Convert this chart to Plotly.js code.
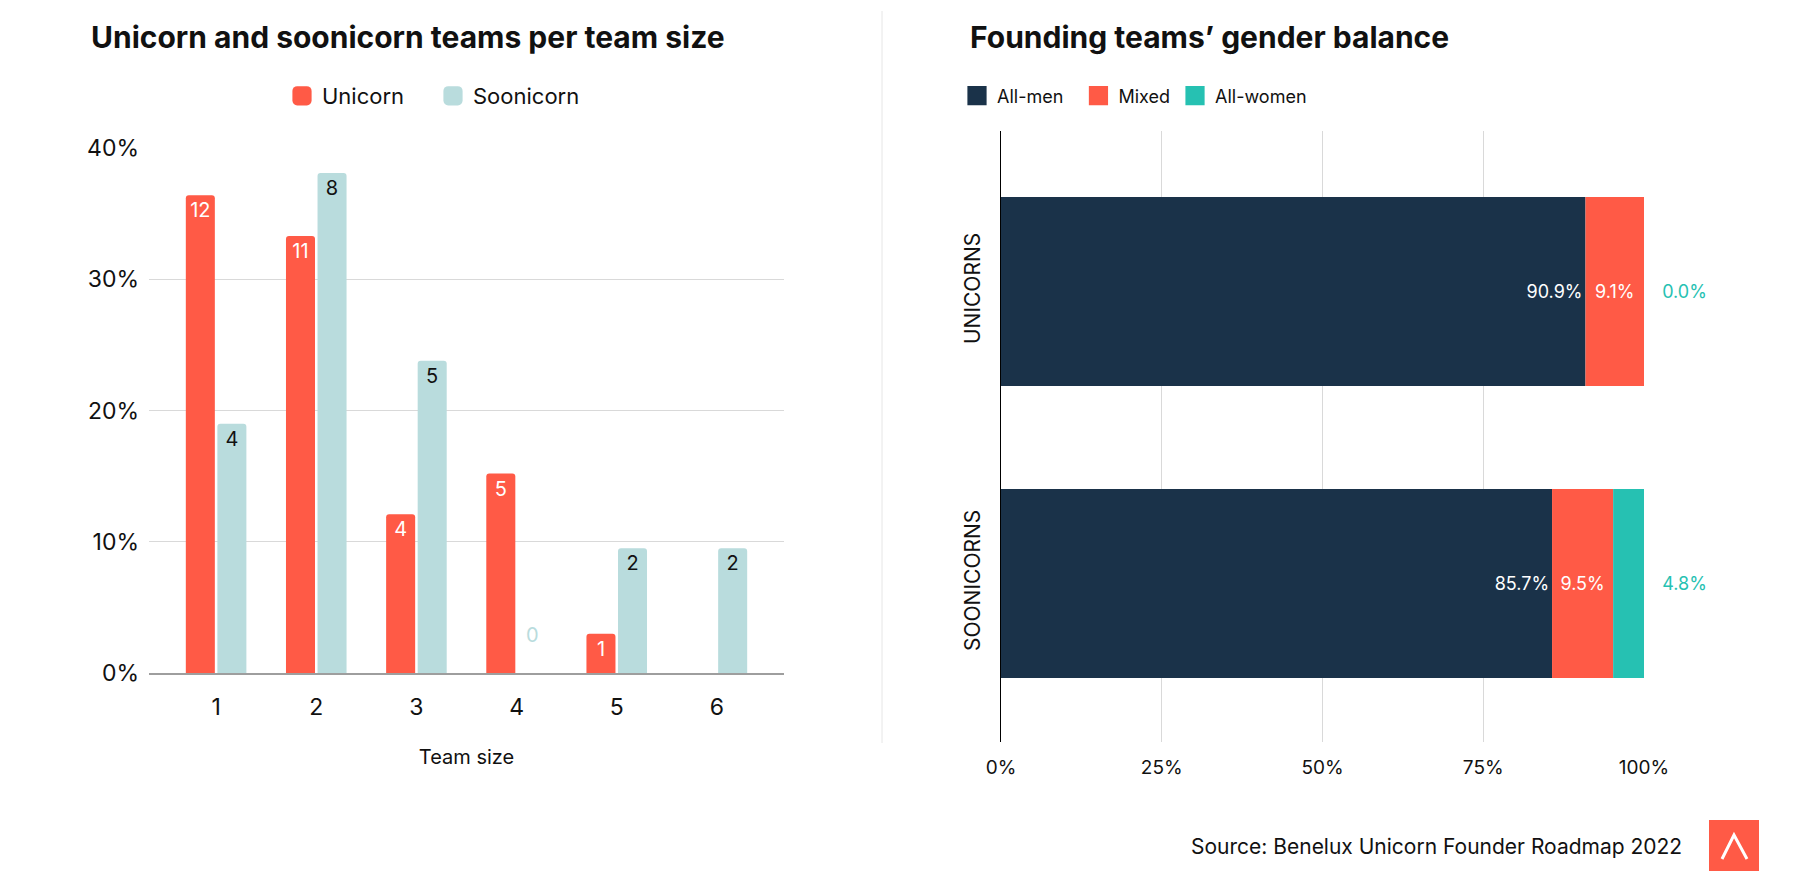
<!DOCTYPE html>
<html>
<head>
<meta charset="utf-8">
<script src="https://cdn.plot.ly/plotly-3.0.1.min.js"></script>
<style>html,body{margin:0;padding:0;background:#fff;}#chart{width:1800px;height:882px;}</style>
</head>
<body>
<div id="chart"></div>
<script>
// ---- Data: left chart (team size) ----
var teamSizes = ['1', '2', '3', '4', '5', '6'];
var unicornShare = [36.4, 33.3, 12.1, 15.2, 3.0, 0];
var soonicornShare = [19.0, 38.1, 23.8, 0, 9.5, 9.5];
var unicornLabels = ['12', '11', '4', '5', '1', ''];
var soonicornLabels = ['4', '8', '5', '0<br><span style="font-size:8px">\u00a0</span>', '2', '2'];
var soonicornLabelPos = ['inside', 'inside', 'inside', 'outside', 'inside', 'inside'];
var yTickVals = [0, 10, 20, 30, 40];
var yTickText = ['0%', '10%', '20%', '30%', '40%'];

// ---- Data: right chart (gender balance) ----
var groups = ['SOONICORNS', 'UNICORNS'];
var allMen = [85.7, 90.9];
var mixed = [9.5, 9.1];
var allWomen = [4.8, 0.0];
var xTickVals = [0, 25, 50, 75, 100];
var xTickText = ['0%', '25%', '50%', '75%', '100%'];

var W = 1800, H = 882;
function px(x) { return x / W; }
function py(y) { return 1 - y / H; }
function pct(v) { return v.toFixed(1) + '%'; }

var mixedBase = allMen.slice();
var womenBase = allMen.map(function (v, i) { return v + mixed[i]; });

var CORAL = '#FF5A46', LIGHT = '#B9DCDD', NAVY = '#1A3249', TEAL = '#26C1B2';
var FONT = 'Inter, Roboto, sans-serif';

var traces = [
  {
    type: 'bar', name: 'Unicorn', x: teamSizes, y: unicornShare,
    xaxis: 'x', yaxis: 'y', legend: 'legend',
    marker: { color: CORAL, cornerradius: 3 },
    text: unicornLabels, textposition: 'inside', insidetextanchor: 'end',
    textfont: { color: '#ffffff', size: 20, family: FONT },
    constraintext: 'none', cliponaxis: false, hoverinfo: 'x+y'
  },
  {
    type: 'bar', name: 'Soonicorn', x: teamSizes, y: soonicornShare,
    xaxis: 'x', yaxis: 'y', legend: 'legend',
    marker: { color: LIGHT, cornerradius: 3 },
    text: soonicornLabels, textposition: soonicornLabelPos, insidetextanchor: 'end',
    insidetextfont: { color: '#111111', size: 20, family: FONT },
    outsidetextfont: { color: LIGHT, size: 20, family: FONT },
    constraintext: 'none', cliponaxis: false, hoverinfo: 'x+y'
  },
  {
    type: 'bar', orientation: 'h', name: 'All-men\u00a0\u00a0', y: groups, x: allMen,
    xaxis: 'x2', yaxis: 'y2', legend: 'legend2', offsetgroup: 'gender', width: 0.647,
    marker: { color: NAVY, cornerradius: 0 },
    text: allMen.map(pct), textposition: 'inside', insidetextanchor: 'end',
    textfont: { color: '#ffffff', size: 18, family: FONT },
    constraintext: 'none', hoverinfo: 'x+y'
  },
  {
    type: 'bar', orientation: 'h', name: 'Mixed', y: groups, x: mixed, base: mixedBase,
    xaxis: 'x2', yaxis: 'y2', legend: 'legend2', offsetgroup: 'gender', width: 0.647,
    marker: { color: CORAL, cornerradius: 0 },
    text: mixed.map(pct), textposition: 'inside', insidetextanchor: 'middle',
    textfont: { color: '#ffffff', size: 18, family: FONT },
    constraintext: 'none', hoverinfo: 'x+y'
  },
  {
    type: 'bar', orientation: 'h', name: 'All-women', y: groups, x: allWomen, base: womenBase,
    xaxis: 'x2', yaxis: 'y2', legend: 'legend2', offsetgroup: 'gender', width: 0.647,
    marker: { color: TEAL, cornerradius: 0 },
    text: allWomen.map(function (v) { return '\u00a0\u00a0\u00a0' + pct(v); }), textposition: 'outside',
    textfont: { color: TEAL, size: 18, family: FONT },
    constraintext: 'none', cliponaxis: false, hoverinfo: 'x+y'
  }
];

var layout = {
  width: W, height: H,
  margin: { l: 0, r: 0, t: 0, b: 0 },
  paper_bgcolor: '#ffffff', plot_bgcolor: '#ffffff',
  font: { family: FONT, color: '#111111' },
  barmode: 'group',
  bargap: 0.37, bargroupgap: 0.08,
  showlegend: true,
  xaxis: {
    domain: [px(149), px(784)], anchor: 'y',
    type: 'category', categoryorder: 'array', categoryarray: teamSizes,
    range: [-0.67, 5.67], fixedrange: true,
    showgrid: false, zeroline: false,
    showline: true, linecolor: '#9E9E9E', linewidth: 2,
    ticks: '', ticklabelstandoff: 12,
    tickfont: { size: 23, color: '#111111' },
    title: { text: 'Team size', font: { size: 20, color: '#111111' }, standoff: 30 }
  },
  yaxis: {
    domain: [py(673), py(148)], anchor: 'x',
    range: [0, 40], tickmode: 'array', tickvals: yTickVals, ticktext: yTickText,
    showgrid: true, gridcolor: '#D9D9D9', gridwidth: 1,
    zeroline: false, showline: false, ticks: '', ticklabelstandoff: 9,
    tickfont: { size: 23, color: '#111111' }, fixedrange: true
  },
  xaxis2: {
    domain: [px(1001), px(1644)], anchor: 'y2',
    range: [0, 100], tickmode: 'array', tickvals: xTickVals, ticktext: xTickText,
    showgrid: true, gridcolor: '#D9D9D9', gridwidth: 1,
    zeroline: false, showline: false, ticks: '', ticklabelstandoff: 12,
    tickfont: { size: 19, color: '#111111' }, fixedrange: true
  },
  yaxis2: {
    domain: [py(742), py(131)], anchor: 'x2',
    type: 'category', categoryorder: 'array', categoryarray: groups,
    range: [-0.543, 1.55], fixedrange: true,
    showgrid: false, zeroline: false,
    showline: true, linecolor: '#000000', linewidth: 1,
    ticks: '', tickangle: -90, ticklabelstandoff: 12,
    tickfont: { size: 21, color: '#111111' }
  },
  legend: {
    orientation: 'h', x: px(282), xanchor: 'left', y: py(96), yanchor: 'middle',
    font: { size: 22, color: '#111111' }, bgcolor: 'rgba(0,0,0,0)', traceorder: 'normal',
    entrywidth: 106
  },
  legend2: {
    orientation: 'h', x: px(957), xanchor: 'left', y: py(96), yanchor: 'middle',
    font: { size: 18, color: '#111111' }, bgcolor: 'rgba(0,0,0,0)', traceorder: 'normal'
  },
  annotations: [
    { text: '<b>Unicorn and soonicorn teams per team size</b>', xref: 'paper', yref: 'paper',
      x: px(89), y: py(37), xanchor: 'left', yanchor: 'middle', showarrow: false,
      font: { size: 30, color: '#111111', family: FONT } },
    { text: '<b>Founding teams\u2019 gender balance</b>', xref: 'paper', yref: 'paper',
      x: px(968), y: py(37), xanchor: 'left', yanchor: 'middle', showarrow: false,
      font: { size: 30, color: '#111111', family: FONT } },
    { text: 'Source: Benelux Unicorn Founder Roadmap 2022', xref: 'paper', yref: 'paper',
      x: px(1684), y: py(846), xanchor: 'right', yanchor: 'middle', showarrow: false,
      font: { size: 21, color: '#111111', family: FONT } }
  ],
  shapes: [
    { type: 'line', xref: 'paper', yref: 'paper', x0: px(882), x1: px(882), y0: py(11), y1: py(743),
      line: { color: '#E6E6E6', width: 1 } },
    { type: 'rect', xref: 'paper', yref: 'paper', x0: px(1709), x1: px(1759), y0: py(871), y1: py(820),
      fillcolor: CORAL, line: { width: 0 } },
    { type: 'path', xref: 'paper', yref: 'paper',
      path: 'M ' + px(1722) + ',' + py(859) + ' L ' + px(1734) + ',' + py(835) + ' L ' + px(1747) + ',' + py(859),
      line: { color: '#ffffff', width: 3 } }
  ]
};

Plotly.newPlot('chart', traces, layout, { displayModeBar: false, staticPlot: true }).then(function (gd) {
  var pts = gd.querySelectorAll('.legendpoints path');
  pts.forEach(function (p) {
    var t = p.getAttribute('transform') || '';
    p.setAttribute('transform', t + ' scale(1.6)');
  });
});
</script>
</body>
</html>
